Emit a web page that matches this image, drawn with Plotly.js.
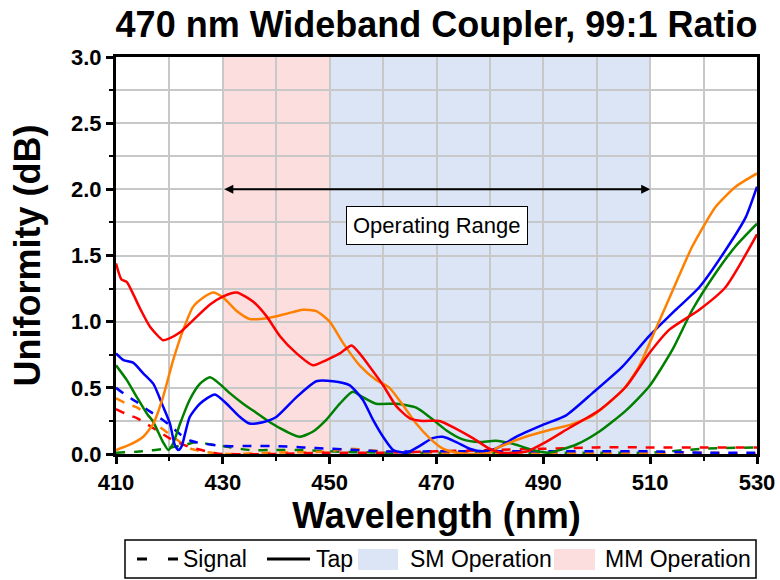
<!DOCTYPE html>
<html>
<head>
<meta charset="utf-8">
<script src="https://cdn.plot.ly/plotly-3.0.1.min.js"></script>
<style>html,body{margin:0;padding:0;background:#fff;}#chart{width:780px;height:580px;}</style>
</head>
<body>
<div id="chart"></div>
<script>
// ---- Tap (solid) curves ----
var redTapX = [410,411,412,413.2,414.5,416.4,418.8,419.8,422,424.4,427.6,430,432.6,435.7,438.2,440.7,443.8,446.9,449.4,451.9,454.1,455.6,457.5,460,462.5,465,467.4,470.6,473.7,476.8,479.9,482,485,487,490,495,500.5,505.5,509.8,513.6,519.2,524.1,530];
var redTapY = [1.44,1.32,1.30,1.21,1.10,0.96,0.86,0.87,0.92,1.01,1.13,1.19,1.22,1.15,1.04,0.89,0.76,0.67,0.71,0.76,0.82,0.76,0.66,0.52,0.36,0.27,0.25,0.25,0.19,0.12,0.04,0.01,0.01,0.02,0.08,0.20,0.33,0.51,0.76,0.94,1.09,1.26,1.66];

var orangeTapX = [410,412.6,415.1,417,418.8,420.7,422.6,424.4,426.3,428.2,430.1,432.6,435,438.8,441.9,445,447.5,450,452.5,455.6,458.7,461.2,463.7,466.2,468.7,471.2,473.7,477,480,481.1,484,487.4,491,495,499.2,504.8,507.9,511,514.8,517.9,522.3,526,530];
var orangeTapY = [0.03,0.07,0.13,0.23,0.43,0.71,0.94,1.11,1.18,1.22,1.18,1.08,1.02,1.03,1.06,1.09,1.08,1.00,0.84,0.67,0.56,0.50,0.37,0.23,0.12,0.04,0.01,0.00,0.01,0.04,0.09,0.14,0.18,0.22,0.29,0.48,0.66,0.94,1.29,1.57,1.87,2.02,2.12];

var blueTapX = [410,411.4,413.2,415.1,417,418.8,420.1,421,421.7,422.3,423.8,425.7,428.5,430.7,433.2,435,437.5,440,443.8,447.5,450.6,453.7,456.2,458.1,460,461.9,464.4,466.8,469.3,471.2,473.7,476.2,478.7,481.1,484.9,489.9,494.2,499.2,504.8,509.8,514.8,519.2,524.1,527.9,530];
var blueTapY = [0.76,0.71,0.69,0.61,0.53,0.36,0.23,0.07,0.03,0.06,0.28,0.38,0.45,0.38,0.28,0.23,0.24,0.28,0.43,0.55,0.55,0.52,0.41,0.26,0.13,0.03,0.01,0.06,0.12,0.13,0.09,0.04,0.02,0.04,0.13,0.22,0.29,0.46,0.66,0.89,1.09,1.26,1.54,1.79,2.02];

var greenTapX = [410,412,413.9,415.7,417,418.8,419.8,420.7,422,423.8,425.7,427.6,429.4,431.3,433.8,436.3,438.8,441.9,444.4,446.9,449.4,451.9,454.3,456.2,458.7,462.5,466.2,468.7,471.8,474.9,478,481.1,484.9,488,491,496.1,500.5,505.5,509.8,514.2,517.9,522.3,526,530];
var greenTapY = [0.67,0.56,0.43,0.31,0.24,0.09,0.03,0.08,0.23,0.41,0.53,0.58,0.53,0.46,0.38,0.31,0.24,0.17,0.13,0.17,0.26,0.38,0.47,0.43,0.38,0.38,0.35,0.28,0.18,0.11,0.09,0.10,0.07,0.03,0.01,0.07,0.17,0.33,0.51,0.79,1.09,1.37,1.57,1.74];

// ---- Signal (dashed) curves ----
var redSigX = [410,412,414,416,418,420,422,424,426,428,430,440,450,460,470,480,490,500,510,520,530];
var redSigY = [0.34,0.30,0.27,0.22,0.17,0.12,0.08,0.05,0.03,0.01,0.00,0.00,0.01,0.01,0.02,0.03,0.04,0.05,0.05,0.05,0.05];

var blueSigX = [410,412,414,416,418,420,422,424,426,428,430,435,440,445,450,455,460,470,480,490,500,510,520,530];
var blueSigY = [0.50,0.44,0.39,0.33,0.28,0.22,0.15,0.10,0.08,0.07,0.06,0.06,0.06,0.05,0.04,0.03,0.02,0.02,0.02,0.02,0.02,0.02,0.01,0.01];

var orangeSigX = [410,412,414,416,418,420,422,424,426,428,430,440,450,453,460,470,480,490,500,510,520,530];
var orangeSigY = [0.42,0.38,0.35,0.29,0.21,0.15,0.09,0.04,0.02,0.01,0.00,0.01,0.02,0.04,0.02,0.01,0.01,0.01,0.01,0.01,0.01,0.00];

var greenSigX = [410,415,419,423,425,428,430,435,440,445,450,460,480,500,510,520,530];
var greenSigY = [0.01,0.02,0.04,0.07,0.09,0.07,0.06,0.03,0.03,0.03,0.02,0.01,0.01,0.01,0.01,0.04,0.05];

// ---- regions / labels ----
var smRange = [450, 510];
var mmRange = [430, 450];
var opRange = [430, 510];
var opLevel = 2.0;
var opLabelLevel = 1.73;
var xTickVals = [410,430,450,470,490,510,530];
var yTickVals = [0.0,0.5,1.0,1.5,2.0,2.5,3.0];
var yTickText = ['0.0','0.5','1.0','1.5','2.0','2.5','3.0'];
var legendNames = ['Signal', 'Tap', 'SM Operation', 'MM Operation'];

var RED = '#ff0000', BLUE = '#0000ff', GREEN = '#008000', ORANGE = '#ff8000';
var SM_FILL = '#dce5f6', MM_FILL = '#fddede';
var FONT = 'Liberation Sans, Arial, sans-serif';
var LW = 2.5;

// plot area in pixels (for placing the legend box in paper coordinates)
var PL = 116, PR = 757, PT = 57, PB = 454;
function px(v) { return (v - PL) / (PR - PL); }
function py(v) { return (PB - v) / (PB - PT); }

function tap(x, y, c) {
  return {x: x, y: y, type: 'scatter', mode: 'lines', showlegend: false, hoverinfo: 'skip',
          line: {color: c, width: LW, shape: 'spline', smoothing: 0.6}};
}
function sig(x, y, c) {
  return {x: x, y: y, type: 'scatter', mode: 'lines', showlegend: false, hoverinfo: 'skip',
          line: {color: c, width: LW, dash: 'dash', shape: 'spline', smoothing: 0.6}};
}

var traces = [
  sig(greenSigX, greenSigY, GREEN),
  sig(orangeSigX, orangeSigY, ORANGE),
  sig(blueSigX, blueSigY, BLUE),
  sig(redSigX, redSigY, RED),
  tap(greenTapX, greenTapY, GREEN),
  tap(blueTapX, blueTapY, BLUE),
  tap(orangeTapX, orangeTapY, ORANGE),
  tap(redTapX, redTapY, RED)
];

var legY = 559;
var legFont = {family: FONT, size: 23, color: '#000'};
function legText(t, left) {
  return {xref: 'paper', yref: 'paper', x: px(left - 2), y: py(legY), xanchor: 'left', yanchor: 'middle',
          text: t, showarrow: false, font: legFont, borderpad: 0};
}

var layout = {
  width: 780, height: 580,
  margin: {l: PL, r: 780 - PR, t: PT, b: 580 - PB, autoexpand: false},
  paper_bgcolor: '#fff', plot_bgcolor: '#fff',
  showlegend: false,
  font: {family: FONT, color: '#000'},
  title: {text: '470 nm Wideband Coupler, 99:1 Ratio', font: {family: FONT, size: 36, weight: 'bold', color: '#000'},
          xref: 'paper', x: 0.5, xanchor: 'center', yref: 'container', y: 1 - 24/580, yanchor: 'middle'},
  xaxis: {
    range: [410, 530], tickmode: 'array', tickvals: xTickVals, ticktext: xTickVals.map(String),
    ticks: 'outside', ticklen: 7, tickwidth: 3, tickcolor: '#000',
    showline: true, linewidth: 3, linecolor: '#000', mirror: true, zeroline: false,
    showgrid: true, gridcolor: '#c8c8c8', gridwidth: 2,
    minor: {dtick: 10, tick0: 410, ticks: 'outside', ticklen: 4, tickwidth: 2, tickcolor: '#000', showgrid: true, gridcolor: '#c8c8c8', gridwidth: 2},
    tickfont: {family: FONT, size: 22, weight: 'bold', color: '#000'},
    title: {text: 'Wavelength (nm)', font: {family: FONT, size: 36, weight: 'bold', color: '#000'}, standoff: 6}
  },
  yaxis: {
    range: [0, 3.0], tickmode: 'array', tickvals: yTickVals, ticktext: yTickText,
    ticks: 'outside', ticklen: 7, tickwidth: 3, tickcolor: '#000',
    showline: true, linewidth: 3, linecolor: '#000', mirror: true, zeroline: false,
    showgrid: true, gridcolor: '#c8c8c8', gridwidth: 2,
    minor: {dtick: 0.25, tick0: 0, ticks: 'outside', ticklen: 4, tickwidth: 2, tickcolor: '#000', showgrid: true, gridcolor: '#c8c8c8', gridwidth: 2},
    tickfont: {family: FONT, size: 22, weight: 'bold', color: '#000'},
    title: {text: 'Uniformity (dB)', font: {family: FONT, size: 36, weight: 'bold', color: '#000'}, standoff: 20}
  },
  shapes: [
    {type: 'rect', xref: 'x', yref: 'paper', x0: smRange[0], x1: smRange[1], y0: 0, y1: 1, fillcolor: SM_FILL, line: {width: 0}, layer: 'below'},
    {type: 'rect', xref: 'x', yref: 'paper', x0: mmRange[0], x1: mmRange[1], y0: 0, y1: 1, fillcolor: MM_FILL, line: {width: 0}, layer: 'below'},
    // legend box and keys
    {type: 'rect', xref: 'paper', yref: 'paper', x0: px(125), x1: px(756), y0: py(578), y1: py(540), fillcolor: '#fff', line: {color: '#000', width: 1.5}},
    {type: 'line', xref: 'paper', yref: 'paper', x0: px(137), x1: px(178), y0: py(legY), y1: py(legY), line: {color: '#000', width: 3, dash: '10px,21px'}},
    {type: 'line', xref: 'paper', yref: 'paper', x0: px(267), x1: px(310), y0: py(legY), y1: py(legY), line: {color: '#000', width: 3}},
    {type: 'rect', xref: 'paper', yref: 'paper', x0: px(358), x1: px(398), y0: py(570), y1: py(549), fillcolor: SM_FILL, line: {width: 0}},
    {type: 'rect', xref: 'paper', yref: 'paper', x0: px(554), x1: px(595), y0: py(570), y1: py(549), fillcolor: MM_FILL, line: {width: 0}}
  ],
  annotations: [
    {x: opRange[1], y: opLevel, ax: opRange[0], ay: opLevel, xref: 'x', yref: 'y', axref: 'x', ayref: 'y',
     text: '', showarrow: true, arrowhead: 2, startarrowhead: 2, arrowside: 'end+start', arrowsize: 0.9, arrowwidth: 2,
     arrowcolor: '#000', standoff: 0, startstandoff: 0},
    {x: (opRange[0] + opRange[1]) / 2, y: opLabelLevel, xref: 'x', yref: 'y', text: 'Operating Range', showarrow: false,
     font: {family: FONT, size: 22, color: '#000'}, bgcolor: '#fff', bordercolor: '#000', borderwidth: 1, borderpad: 6},
    legText(legendNames[0], 184),
    legText(legendNames[1], 317),
    legText(legendNames[2], 411),
    legText(legendNames[3], 606)
  ]
};

Plotly.newPlot('chart', traces, layout, {displayModeBar: false, staticPlot: true});
</script>
</body>
</html>
